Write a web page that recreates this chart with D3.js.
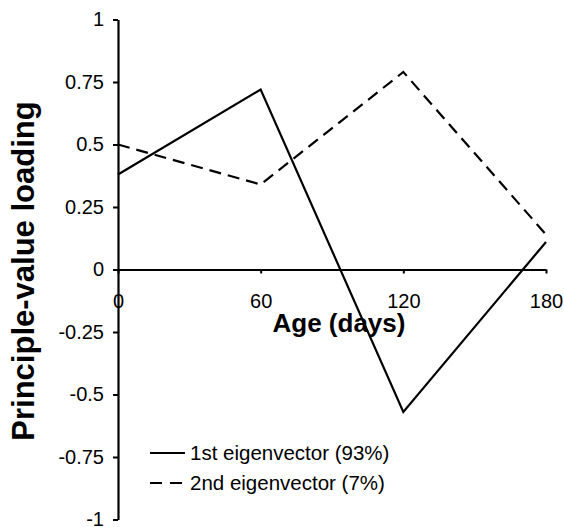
<!DOCTYPE html>
<html>
<head>
<meta charset="utf-8">
<script src="https://cdn.jsdelivr.net/npm/d3@7"></script>
<style>
  body { margin: 0; background: #fff; }
  text { font-family: "Liberation Sans", Arial, sans-serif; }
</style>
</head>
<body>
<div id="chart"></div>
<script>
// age in days
var ages = [0, 60, 120, 180];
var first = [0.38, 0.72, -0.57, 0.11];
var second = [0.50, 0.34, 0.79, 0.14];
var yTicks = [-1, -0.75, -0.5, -0.25, 0, 0.25, 0.5, 0.75, 1];
var xTicks = [0, 60, 120, 180];
var seriesNames = ["1st eigenvector (93%)", "2nd eigenvector (7%)"];

var width = 564, height = 527;
var svg = d3.select("#chart").append("svg")
    .attr("width", width)
    .attr("height", height);

var x = d3.scaleLinear().domain([0, 180]).range([118, 546]);
var y = d3.scaleLinear().domain([-1, 1]).range([519.5, 19.5]);

// y axis
var yAxis = svg.append("g")
    .attr("transform", "translate(" + x(0) + ",0)")
    .call(d3.axisLeft(y).tickValues(yTicks).tickSize(5).tickSizeOuter(0)
        .tickFormat(function(d) { return String(d); }));
yAxis.select(".domain").attr("stroke-width", 2.2);
yAxis.selectAll(".tick line").attr("stroke-width", 2);
yAxis.selectAll(".tick text")
    .style("font-size", "20px")
    .attr("x", -14)
    .attr("fill", "#000");

// x axis at zero
var xAxis = svg.append("g")
    .attr("transform", "translate(0," + y(0) + ")")
    .call(d3.axisBottom(x).tickValues(xTicks).tickSize(4).tickSizeOuter(0));
xAxis.select(".domain").attr("stroke-width", 2.2);
xAxis.selectAll(".tick line").attr("stroke-width", 2);
xAxis.selectAll(".tick text")
    .style("font-size", "20px")
    .attr("y", 24)
    .attr("fill", "#000");

var line = d3.line()
    .x(function(d, i) { return x(ages[i]); })
    .y(function(d) { return y(d); });

svg.append("path")
    .datum(first)
    .attr("fill", "none")
    .attr("stroke", "#000")
    .attr("stroke-width", 2.2)
    .attr("d", line);

svg.append("path")
    .datum(second)
    .attr("fill", "none")
    .attr("stroke", "#000")
    .attr("stroke-width", 2.2)
    .attr("stroke-dasharray", "12,7")
    .attr("d", line);

// axis titles
svg.append("text")
    .attr("x", 339)
    .attr("y", 332)
    .attr("text-anchor", "middle")
    .style("font-size", "26px")
    .style("font-weight", "bold")
    .text("Age (days)");

svg.append("text")
    .attr("transform", "translate(34,271) rotate(-90)")
    .attr("text-anchor", "middle")
    .style("font-size", "31px")
    .style("font-weight", "bold")
    .text("Principle-value loading");

// legend
var legend = svg.append("g");
seriesNames.forEach(function(name, i) {
    var ly = 453 + i * 30;
    legend.append("line")
        .attr("x1", 150).attr("x2", 185)
        .attr("y1", ly).attr("y2", ly)
        .attr("stroke", "#000")
        .attr("stroke-width", 2.2)
        .attr("stroke-dasharray", i == 1 ? "12,8" : null);
    legend.append("text")
        .attr("x", 190)
        .attr("y", ly + 7)
        .style("font-size", "20.5px")
        .text(name);
});
</script>
</body>
</html>
